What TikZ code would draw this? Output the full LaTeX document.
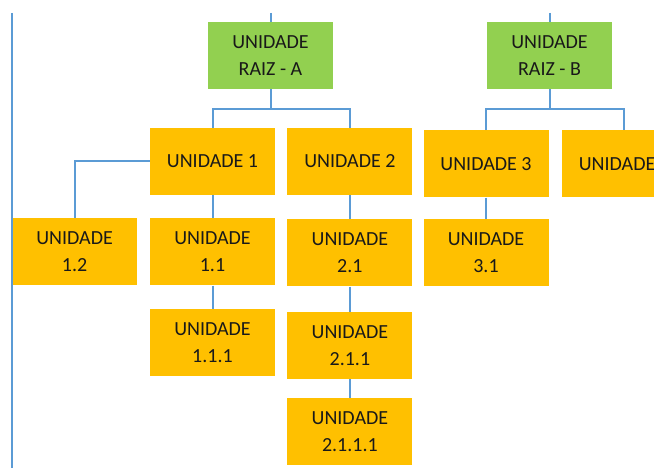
\documentclass[tikz,border=0pt]{standalone}
\usepackage{fontspec}
\setmainfont{Carlito}
\usetikzlibrary{positioning}
\definecolor{rootgreen}{HTML}{92D050}
\definecolor{unitorange}{HTML}{FFC000}
\definecolor{linkblue}{HTML}{5B9BD5}

\begin{document}
\begin{tikzpicture}
      [ x=1pt, y=-1pt,
        box/.style={minimum width=125pt, minimum height=67pt, inner sep=0pt,
                    align=center, text=black!90,
                    font=\fontsize{20}{27}\selectfont},
        root/.style={box, fill=rootgreen},
        unit/.style={box, fill=unitorange},
        link/.style={draw=linkblue, line width=2pt}
      ]
      \clip (0,0) rectangle (654,468);

      \node[root]  (rA)  at (270.5,55.5)            {UNIDADE\\RAIZ - A};
      \node[root]  (rB)  at (549.5,55.5)            {UNIDADE\\RAIZ - B};

      \node[unit]  (u1)  at (212.5,161.5)           {UNIDADE 1};
      \node[unit]  (u2)    [right=12pt of u1]       {UNIDADE 2};
      \node[unit]  (u3)  at (486,164)               {UNIDADE 3};
      \node[unit]  (u4)    [right=13pt of u3]       {UNIDADE\phantom{ 4}};

      \node[unit]  (u11)   [below=23pt of u1]       {UNIDADE\\1.1};
      \node[unit, minimum width=124pt]
                   (u12)   [left=13pt of u11]       {UNIDADE\\1.2};
      \node[unit]  (u111)  [below=23pt of u11]      {UNIDADE\\1.1.1};

      \node[unit]  (u21)   [below=24pt of u2]       {UNIDADE\\2.1};
      \node[unit]  (u211)  [below=25pt of u21]      {UNIDADE\\2.1.1};
      \node[unit]  (u2111) [below=19pt of u211]     {UNIDADE\\2.1.1.1};

      \node[unit]  (u31)   [below=21pt of u3]       {UNIDADE\\3.1};

      \coordinate (topA)   at (rA.north |- 0,13);
      \coordinate (topB)   at (rB.north |- 0,13);
      \coordinate (railT)  at (12,13);
      \coordinate (railB)  at (12,468);

      % connectors
      \draw[link] (railT) -- (railB);
      \draw[link] (topA) -- (rA.north);
      \draw[link] (topB) -- (rB.north);
      \draw[link] (rA.south) -- ++(0,20) -| (u1.north);
      \draw[link] (rA.south) -- ++(0,20) -| (u2.north);
      \draw[link] (rB.south) -- ++(0,20) -| (u3.north);
      \draw[link] (rB.south) -- ++(0,20) -| (u4.north);
      \draw[link] (u1.west) -| (u12.north);
      \draw[link] (u1) -- (u11)  (u11) -- (u111);
      \draw[link] (u2) -- (u21)  (u21) -- (u211)  (u211) -- (u2111);
      \draw[link] (u3) -- (u31);
    \end{tikzpicture}
\end{document}
